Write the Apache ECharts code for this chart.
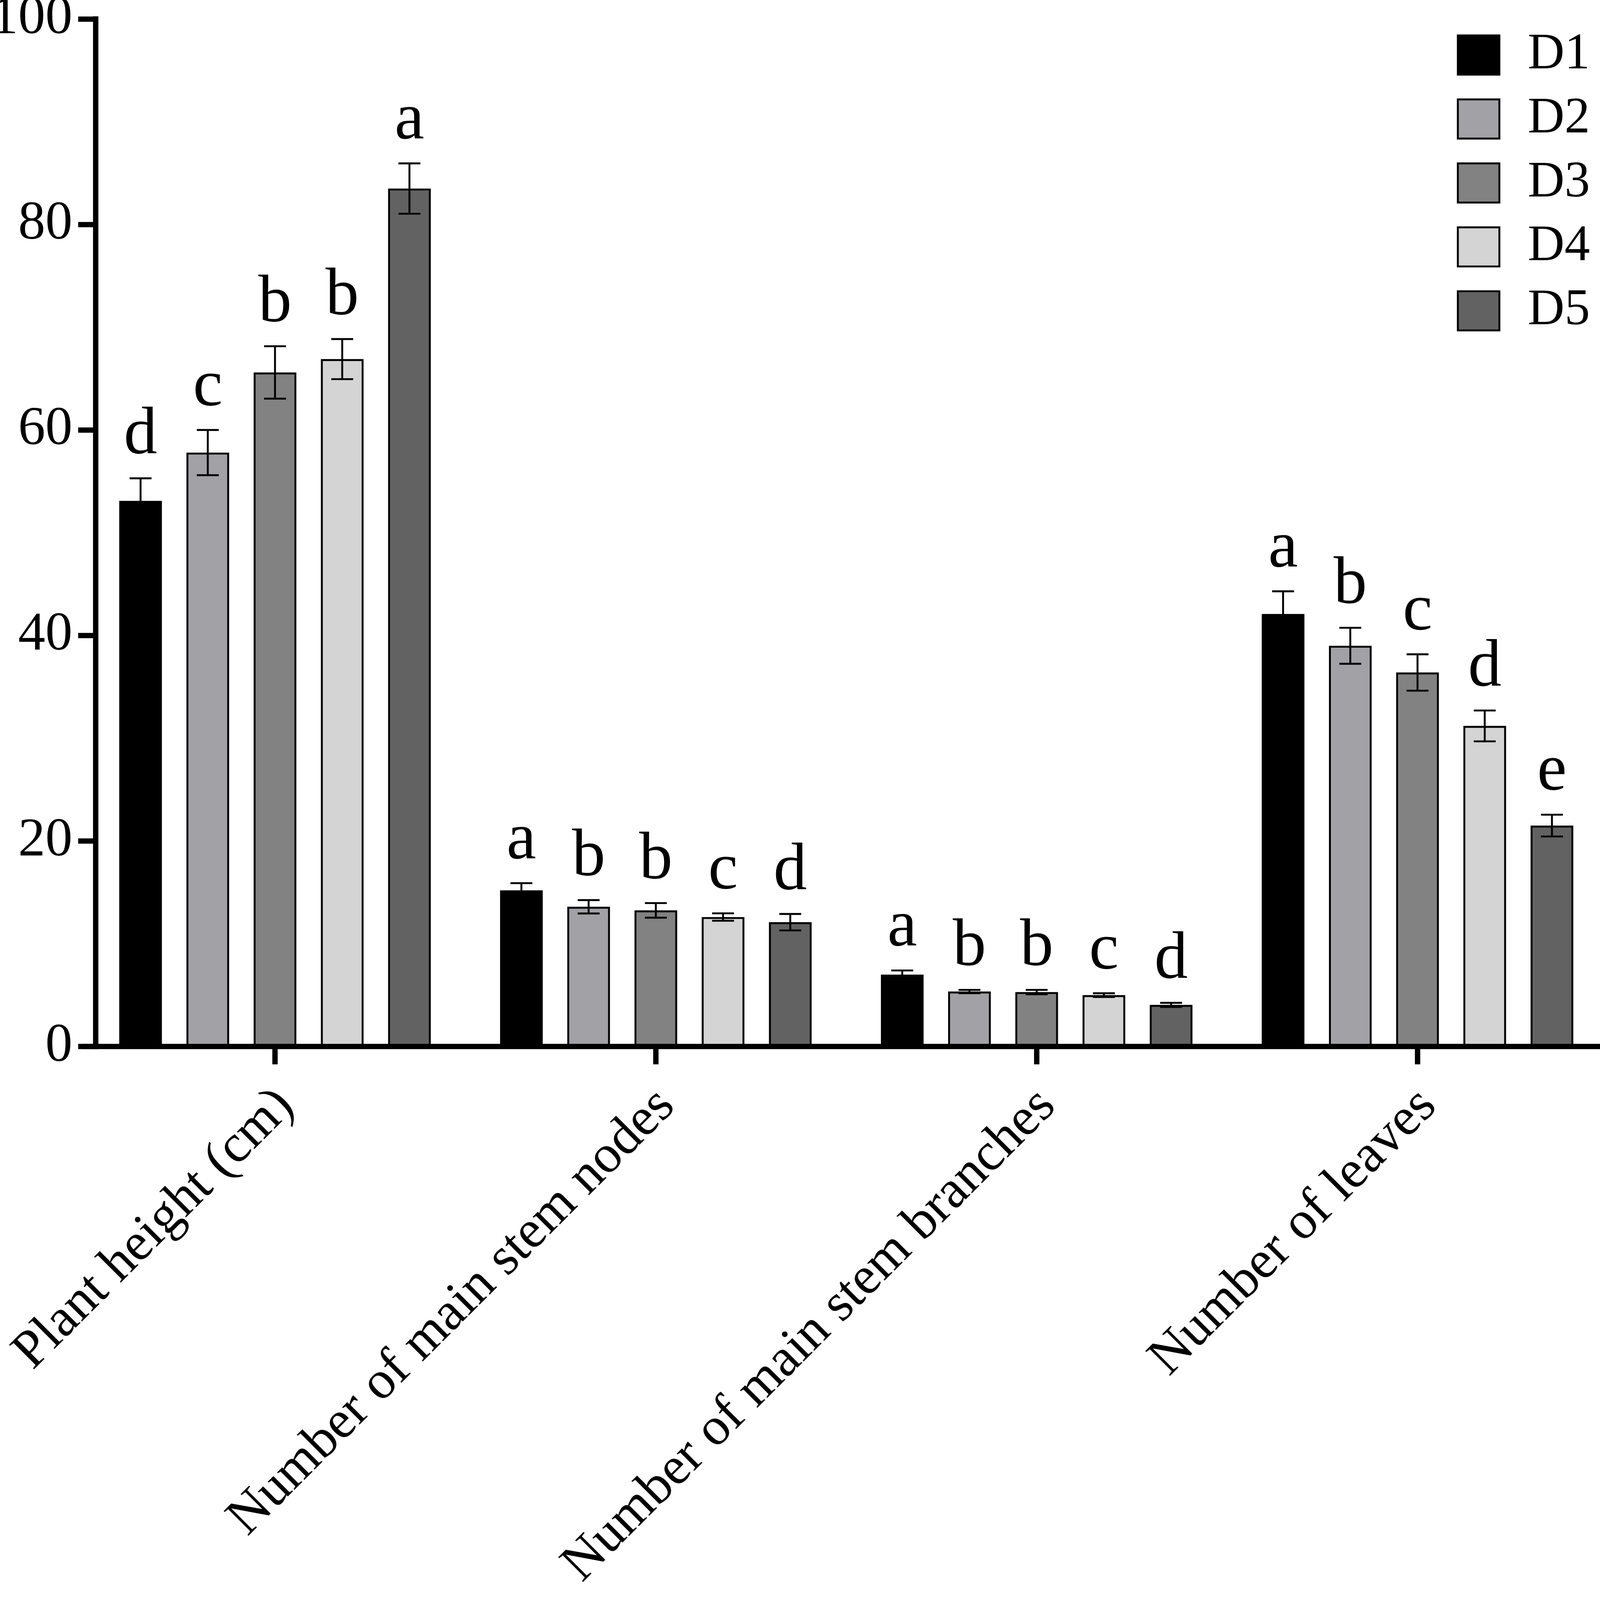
<!DOCTYPE html>
<html>
<head>
<meta charset="utf-8">
<script src="https://cdn.jsdelivr.net/npm/echarts@6/dist/echarts.min.js"></script>
<style>
  html, body { margin: 0; padding: 0; background: #ffffff; overflow: hidden; }
  #chart { width: 100vw; height: 100vh; }
</style>
</head>
<body>
<div id="chart"></div>
<script>
// ---- data ----
const categories = ['Plant height (cm)', 'Number of main stem nodes', 'Number of main stem branches', 'Number of leaves'];
const seriesNames = ['D1', 'D2', 'D3', 'D4', 'D5'];
const D1 = [53.1, 15.2, 7.0, 42.1];
const D2 = [57.8, 13.6, 5.35, 39.0];
const D3 = [65.6, 13.25, 5.3, 36.4];
const D4 = [66.9, 12.6, 5.0, 31.2];
const D5 = [83.5, 12.1, 4.05, 21.5];
const D1_se = [2.2, 0.7, 0.4, 2.2];
const D2_se = [2.2, 0.65, 0.16, 1.75];
const D3_se = [2.55, 0.71, 0.21, 1.77];
const D4_se = [1.95, 0.36, 0.18, 1.5];
const D5_se = [2.45, 0.8, 0.2, 1.06];
const D1_letters = ['d', 'a', 'a', 'a'];
const D2_letters = ['c', 'b', 'b', 'b'];
const D3_letters = ['b', 'b', 'b', 'c'];
const D4_letters = ['b', 'c', 'c', 'd'];
const D5_letters = ['a', 'd', 'd', 'e'];
const yTicks = { min: 0, max: 100, interval: 20 };

// ---- style (designed for a 4237 x 4128 canvas, scaled to the real viewport) ----
const colors = ['#000000', '#a2a1a6', '#828282', '#d4d4d4', '#626262'];
const FONT = "'Liberation Serif', 'Times New Roman', serif";

const means = [D1, D2, D3, D4, D5];
const ses = [D1_se, D2_se, D3_se, D4_se, D5_se];
const letters = [D1_letters, D2_letters, D3_letters, D4_letters, D5_letters];

const el = document.getElementById('chart');
const chart = echarts.init(el, null, { renderer: 'canvas' });
const W = chart.getWidth(), H = chart.getHeight();
const SX = W / 4237, SY = H / 4128, SF = Math.sqrt(SX * SY);

const BAR_W = 113 * SX;
const BAR_PITCH = 178 * SX;
const CAP_W = 58 * SX;
const ERR_LW = 5 * SF;
const AXIS_LW = 14 * SF;

const series = [];
seriesNames.forEach((name, s) => {
  series.push({
    name: name,
    type: 'bar',
    data: means[s],
    barWidth: BAR_W,
    barGap: ((BAR_PITCH - BAR_W) / BAR_W * 100).toFixed(2) + '%',
    itemStyle: { color: colors[s], borderColor: '#000000', borderWidth: 5 * SF },
    z: 2
  });
});
seriesNames.forEach((name, s) => {
  series.push({
    name: name + ' err',
    type: 'custom',
    z: 4,
    encode: { x: 0, y: 1 },
    data: means[s].map((m, i) => [i, m, ses[s][i]]),
    renderItem: function (params, api) {
      const ci = api.value(0), m = api.value(1), se = api.value(2);
      const top = api.coord([ci, m + se]);
      const bot = api.coord([ci, m - se]);
      const x = top[0] + (s - 2) * BAR_PITCH;
      const st = { stroke: '#000000', lineWidth: ERR_LW };
      return {
        type: 'group',
        children: [
          { type: 'line', shape: { x1: x, y1: top[1], x2: x, y2: bot[1] }, style: st },
          { type: 'line', shape: { x1: x - CAP_W / 2, y1: top[1], x2: x + CAP_W / 2, y2: top[1] }, style: st },
          { type: 'line', shape: { x1: x - CAP_W / 2, y1: bot[1], x2: x + CAP_W / 2, y2: bot[1] }, style: st },
          { type: 'text', style: { x: x, y: top[1] - 110 * SY, text: letters[s][params.dataIndex],
              fill: '#000000', font: Math.round(175 * SF) + 'px ' + FONT, textAlign: 'center', textVerticalAlign: 'middle' } }
        ]
      };
    }
  });
});

const legendFont = 133 * SF;
const option = {
  backgroundColor: '#ffffff',
  animation: false,
  grid: { left: 224 * SX, right: W - 4258 * SX, top: 49 * SY, bottom: H - 2700 * SY, containLabel: false, outerBoundsMode: 'none' },
  legend: {
    data: seriesNames,
    orient: 'vertical',
    left: 3858 * SX,
    top: 142 * SY - legendFont / 2,
    padding: 0,
    itemWidth: 110 * SX,
    itemHeight: 101 * SY,
    itemGap: 165 * SY - legendFont,
    icon: 'rect',
    itemStyle: { borderColor: '#000000', borderWidth: 5 * SF },
    textStyle: { fontFamily: FONT, fontSize: legendFont, lineHeight: legendFont, color: '#000000', padding: [0, 0, 0, 70 * SX] }
  },
  xAxis: {
    type: 'category',
    data: categories,
    z: 10,
    axisLine: { show: true, lineStyle: { color: '#000000', width: AXIS_LW, cap: 'square' } },
    axisTick: { show: true, alignWithLabel: true, length: 46 * SY, lineStyle: { color: '#000000', width: AXIS_LW } },
    axisLabel: { interval: 0, rotate: 45, margin: 160 * SY, padding: [0, -40 * SX, 0, 0], fontFamily: FONT, fontSize: 140 * SF, color: '#000000' },
    splitLine: { show: false }
  },
  yAxis: {
    type: 'value',
    min: yTicks.min,
    max: yTicks.max,
    interval: yTicks.interval,
    offset: -29 * SX,
    z: 10,
    axisLine: { show: true, lineStyle: { color: '#000000', width: AXIS_LW, cap: 'square' } },
    axisTick: { show: true, length: 46 * SX, lineStyle: { color: '#000000', width: AXIS_LW } },
    axisLabel: { margin: 61 * SX, fontFamily: FONT, fontSize: 142 * SF, color: '#000000' },
    splitLine: { show: false }
  },
  series: series
};

chart.setOption(option);
</script>
</body>
</html>
